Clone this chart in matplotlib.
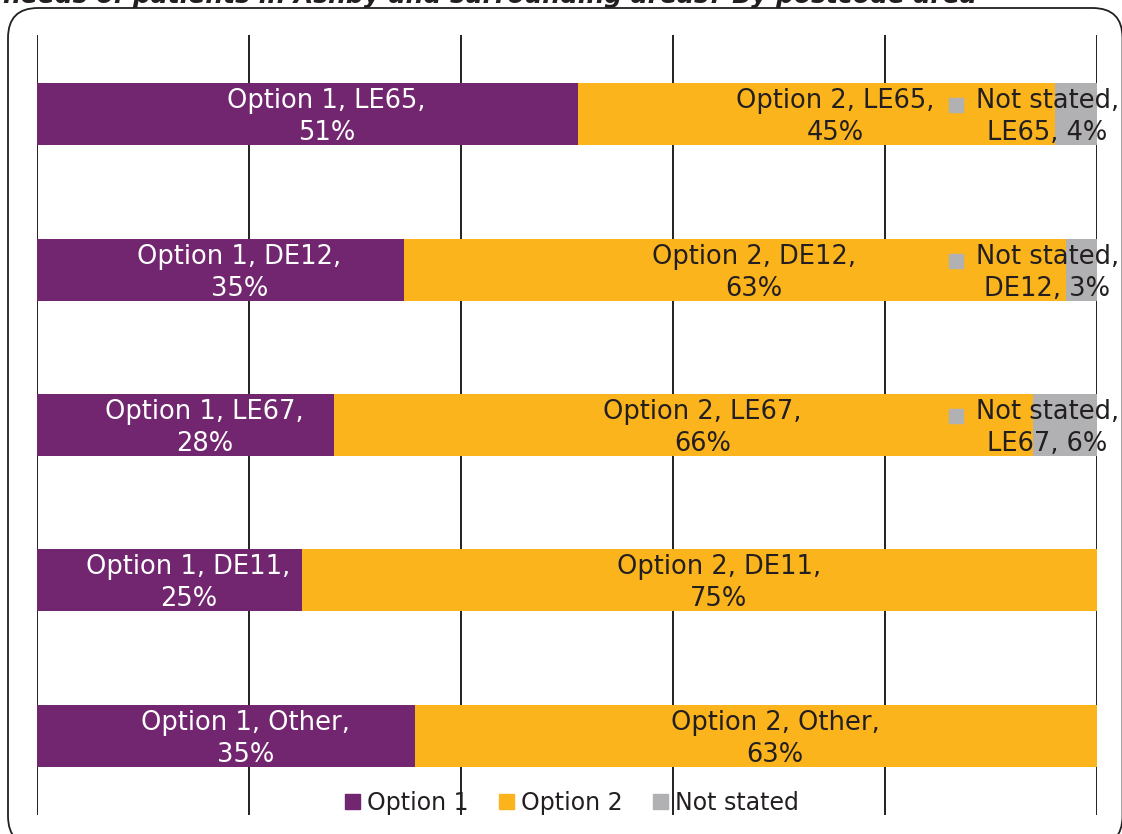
import matplotlib
matplotlib.use("Agg")
import matplotlib.pyplot as plt
from matplotlib.patches import Patch, FancyBboxPatch
import numpy as np

categories = ["LE65", "DE12", "LE67", "DE11", "Other"]
option1 = [51.0, 34.6, 28.0, 25.0, 35.7]
option2 = [45.0, 62.5, 66.0, 75.0, 64.3]
not_stated = [4.0, 2.9, 6.0, 0.0, 0.0]
label_opt1 = ["51%", "35%", "28%", "25%", "35%"]
label_opt2 = ["45%", "63%", "66%", "75%", "63%"]
label_ns = ["4%", "3%", "6%", "", ""]
series_names = ["Option 1", "Option 2", "Not stated"]
title = "needs of patients in Ashby and surrounding areas? By postcode area"

C1 = "#72266F"
C2 = "#FBB41C"
C3 = "#B1B1B3"
DARK = "#231F20"

plt.rcParams['font.family'] = ['DejaVu Sans']
FS = 18.5

W, H = 1122, 834
fig = plt.figure(figsize=(W / 100, H / 100), dpi=100)
ax = fig.add_axes([37 / W, 1 - 815 / H, 1060 / W, 780 / H])

y = np.arange(len(categories))
h = 0.4
o1 = np.array(option1)
o2 = np.array(option2)
ns = np.array(not_stated)
ax.barh(y, o1, height=h, color=C1, zorder=2)
ax.barh(y, o2, left=o1, height=h, color=C2, zorder=2)
ax.barh(y, ns, left=o1 + o2, height=h, color=C3, zorder=2)

ax.set_xlim(0, 100)
ax.set_ylim(len(categories) - 1 + 0.51, -0.51)
ax.set_xticks(np.arange(0, 101, 20))
ax.set_yticks([])
ax.tick_params(length=0, labelbottom=False)
ax.grid(axis='x', color=DARK, lw=1.4, zorder=1)
ax.set_axisbelow(True)
for s in ax.spines.values():
    s.set_visible(False)

off = 1.8
LS = 1.3
ns_texts = []
for i, cat in enumerate(categories):
    ax.text(o1[i] / 2 + off, y[i] + 0.02, f"Option 1, {cat},\n{label_opt1[i]}",
            ha='center', va='center', color='white', fontsize=FS, zorder=3,
            linespacing=LS)
    ax.text(o1[i] + o2[i] / 2 + off, y[i] + 0.02, f"Option 2, {cat},\n{label_opt2[i]}",
            ha='center', va='center', color=DARK, fontsize=FS, zorder=3,
            linespacing=LS)
    if ns[i] > 0:
        t = ax.text(95.3, y[i] + 0.02, f"Not stated,\n{cat}, {label_ns[i]}",
                    ha='center', va='center', color=DARK, fontsize=FS, zorder=3,
                    linespacing=LS)
        ns_texts.append((t, y[i]))

fig.canvas.draw()
inv = ax.transData.inverted()
for t, yy in ns_texts:
    bb = t.get_window_extent()
    px = bb.x0 - 20
    py = bb.y1 - 17
    xd, yd = inv.transform((px, py))
    ax.plot([xd], [yd], marker='s', ms=10, color=C3, mec=C3, zorder=4,
            linestyle='none', clip_on=False)

handles = [Patch(facecolor=c, edgecolor=c) for c in (C1, C2, C3)]
fig.legend(handles, series_names, loc='center', bbox_to_anchor=(572 / W, 1 - 803 / H),
           ncol=3, frameon=False, fontsize=17, handlelength=0.63, handleheight=0.63,
           handletextpad=0.3, columnspacing=1.3, labelcolor=DARK)

fig.text(3 / W, 1 - 3 / H, title, fontsize=18, fontweight='bold', style='italic',
         ha='left', va='baseline', color=DARK)

box = FancyBboxPatch((0.08, -0.12), 11.145, 8.38,
                     boxstyle="round,pad=0,rounding_size=0.3",
                     transform=fig.dpi_scale_trans, fill=False,
                     edgecolor=DARK, lw=1.3)
fig.add_artist(box)

fig.savefig("out.png", dpi=100)
